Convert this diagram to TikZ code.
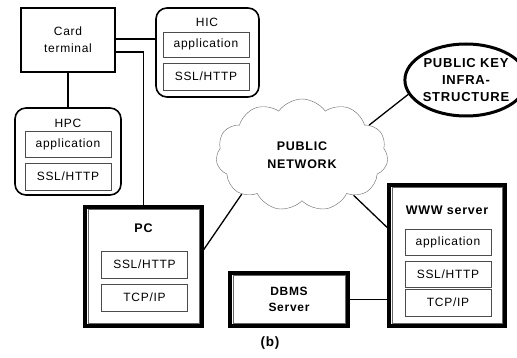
\documentclass[tikz,border=0pt]{standalone}
\usepackage{fontspec}
\setmainfont{Liberation Sans}[LetterSpace=6]
\usetikzlibrary{shapes,shapes.symbols}

\begin{document}
\begin{tikzpicture}[x=1pt, y=-1pt,
      every node/.append style={font=\fontsize{12}{17}\selectfont, align=center, inner sep=0pt},
      layer/.style={draw=black!70, minimum width=86pt, minimum height=26pt},
      host/.style={draw, line width=1.6pt, rounded corners=11pt},
      machine/.style={draw, line width=3.6pt}]
    \tikzstyle{title} = [font=\fontsize{12.5}{14}\selectfont\bfseries]
    \tikzstyle{link} = [line width=1.3pt]
    \useasboundingbox (0,0) rectangle (517,358);
    \node [draw, line width=1.4pt, minimum width=94pt, minimum height=64pt] (card) at (68,40) {Card\\terminal};
    \node [host, minimum width=103pt, minimum height=89pt] (hic) at (207.5,52.5) {};
    \node (hiclabel) at (207,22) {HIC};
    \node [layer, minimum height=25pt] (hicapp) at (206,44.5) {application};
    \node [layer, minimum height=27pt] (hicssl) at (206,76.5) {SSL/HTTP};
    \node [host, minimum width=106pt, minimum height=87pt] (hpc) at (68,151.5) {};
    \node (hpclabel) at (68,123) {HPC};
    \node [layer] (hpcapp) at (68,144) {application};
    \node [layer, minimum height=27pt] (hpcssl) at (68,176.5) {SSL/HTTP};
    \node [machine, minimum width=117pt, minimum height=119pt] (pc) at (143.5,266.5) {};
    \draw [black!60] ([shift={(4.5pt,-4.5pt)}]pc.north west) rectangle ([shift={(-4.5pt,4.5pt)}]pc.south east);
    \node [title] (pclabel) at (143.5,228) {PC};
    \node [layer, minimum height=27pt] (pcssl) at (144.5,264.5) {SSL/HTTP};
    \node [layer, minimum height=27pt] (pctcp) at (144.5,297.5) {TCP/IP};
    \node [machine, minimum width=116pt, minimum height=141pt] (www) at (447,255.5) {};
    \draw [black!60] ([shift={(4.5pt,-4.5pt)}]www.north west) rectangle ([shift={(-4.5pt,4.5pt)}]www.south east);
    \node [title] (wwwlabel) at (447,210) {WWW server};
    \node [layer] (wwwapp) at (448,242) {application};
    \node [layer] (wwwssl) at (448,274) {SSL/HTTP};
    \node [layer, minimum height=27pt] (wwwtcp) at (448,302.5) {TCP/IP};
    \node [machine, minimum width=118pt, minimum height=53pt] (dbms) at (289,299.5) {};
    \draw [black!60] ([shift={(4.5pt,-4.5pt)}]dbms.north west) rectangle ([shift={(-4.5pt,4.5pt)}]dbms.south east);
    \node [title, font=\fontsize{12}{16}\selectfont\bfseries] (dbmslabel) at (289,299.5) {DBMS\\Server};
    \node [cloud, draw=black!60, cloud puffs=11, cloud puff arc=110, aspect=1.5,
      minimum width=172pt, minimum height=112pt, font=\fontsize{12.5}{18}\selectfont\bfseries] (net) at (302,155) {PUBLIC\\NETWORK};
    \node [ellipse, draw, line width=3pt, minimum width=104pt, minimum height=72pt,
      font=\fontsize{13}{17}\selectfont\bfseries] (pki) at (466,80) {PUBLIC KEY\\INFRA-\\STRUCTURE};
    \node [title, font=\fontsize{13.5}{15}\selectfont\bfseries] (caption) at (270,343) {(b)};
    \draw [link] (card.east |- 0,39) -- (hic.west |- 0,39);
    \draw [link] (card.east |- 0,52) -| (pc.north);
    \draw [link] (card.south) -- (hpc.north);
    \draw [link] ([yshift=17pt]pc.east) -- (net.213);
    \draw [link] (net.322) -- ([yshift=28pt]www.west);
    \draw [link] (net.24) -- (pki.194);
    \draw [link] (dbms.east) -- (dbms.east -| www.west);
\end{tikzpicture}
\end{document}
